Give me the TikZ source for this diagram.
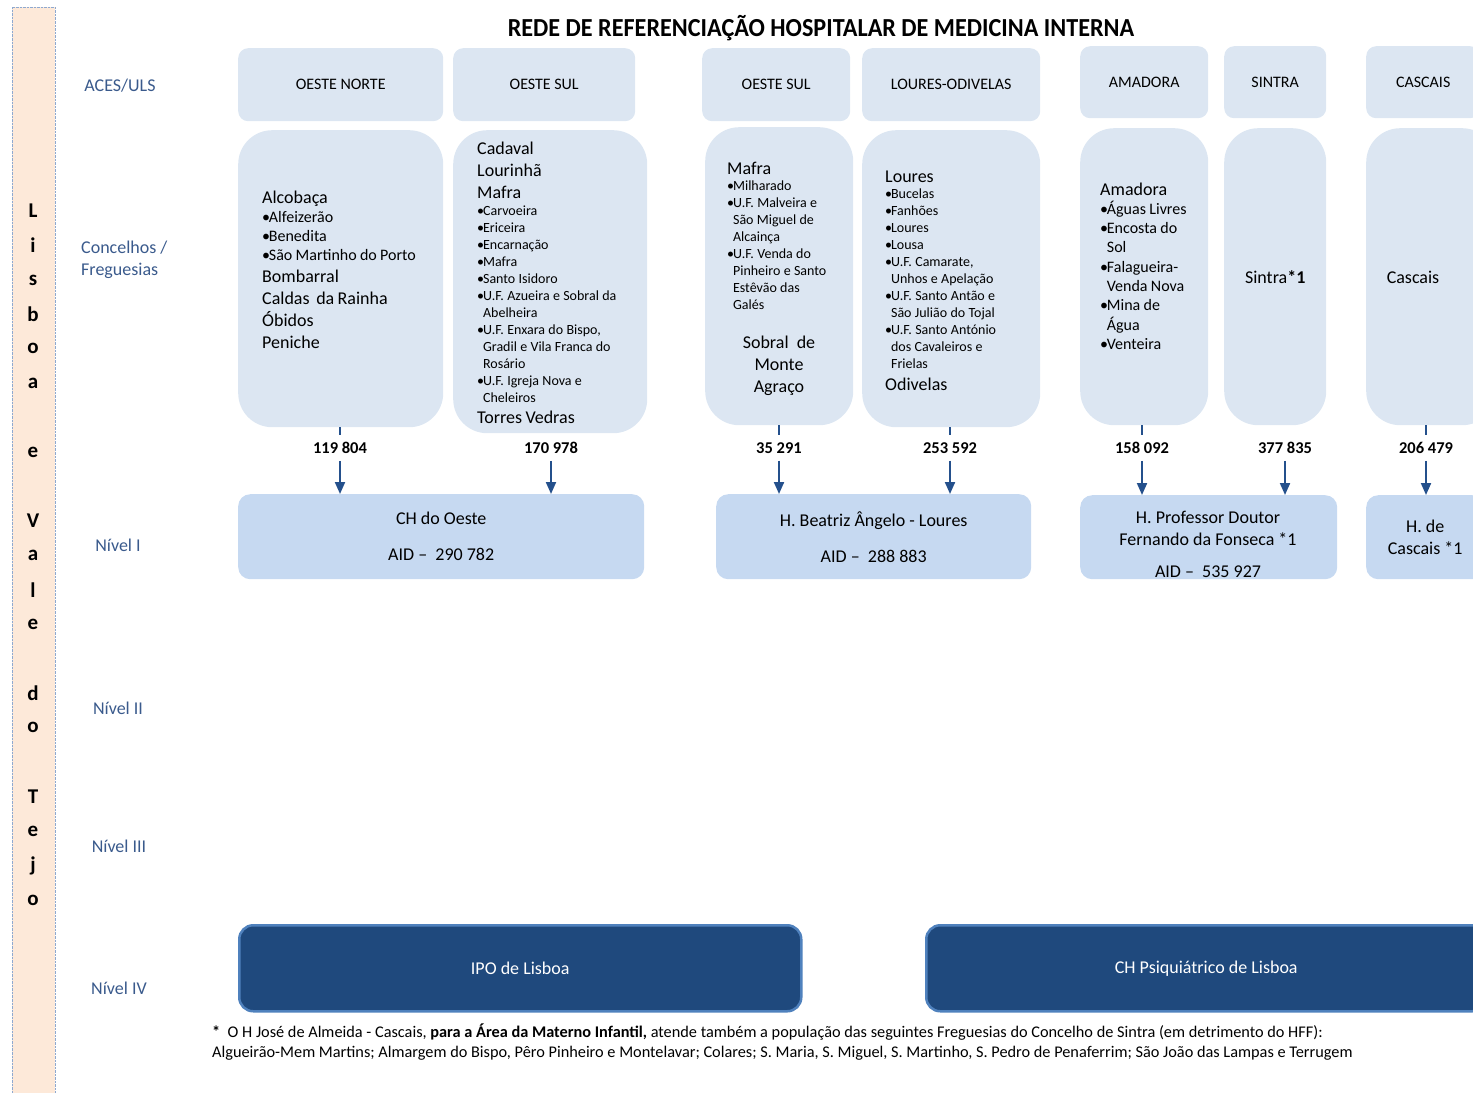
\documentclass[tikz,border=0pt]{standalone}
\usepackage{fontspec}
\usepackage{graphicx}
\setmainfont{Carlito}
\usetikzlibrary{arrows.meta}

\definecolor{boxblue}{HTML}{DCE6F2}
\definecolor{hospblue}{HTML}{C6D9F1}
\definecolor{navy}{HTML}{1F497D}
\definecolor{edgeblue}{HTML}{4F81BD}
\definecolor{labblue}{HTML}{3A5A8C}
\definecolor{arrblue}{HTML}{24508C}
\definecolor{peach}{HTML}{FDE9D9}
\definecolor{bardot}{HTML}{8EA9D0}

\newcommand{\fbig}{\fontsize{18bp}{22bp}\selectfont}
\newcommand{\fmid}{\fontsize{16bp}{19.3bp}\selectfont}
\newcommand{\fsml}{\fontsize{14bp}{17bp}\selectfont}
\newcommand{\bu}{\makebox[0.42em][l]{•}}
\newcommand{\ind}{\hspace*{0.42em}}
\lineskiplimit=-50pt

\tikzset{
  acesbox/.style={fill=boxblue, rounded corners=10bp, inner sep=0pt, anchor=north west,
    font=\fontsize{16bp}{19bp}\selectfont},
  conbox/.style={fill=boxblue, rounded corners=34bp, inner sep=0pt, anchor=north west, font=\fbig},
  contxt/.style={anchor=base west, text width=240bp, align=left, inner sep=0pt},
  hospbox/.style={fill=hospblue, rounded corners=12bp, inner sep=0pt, anchor=north west,
    align=center, font=\fbig},
  ivbox/.style={fill=navy, draw=edgeblue, line width=2.5bp, rounded corners=14bp, inner sep=0pt,
    anchor=north west, text=white, font=\fbig},
  rowlab/.style={text=labblue, font=\fbig, inner sep=0pt},
  barletter/.style={font=\fontsize{21bp}{25bp}\selectfont\bfseries, inner sep=0pt},
  popnum/.style={font=\fontsize{16.5bp}{19bp}\selectfont\bfseries, inner xsep=2bp, inner ysep=7bp},
  arr/.style={draw=arrblue, line width=2bp, -{Triangle[length=12bp,width=10bp]}},
  tick/.style={draw=arrblue, line width=2bp},
}

\begin{document}
\begin{tikzpicture}[x=1bp,y=-1bp]
  \useasboundingbox (0,0) rectangle (1473,1092);
  \clip (0,0) rectangle (1473,1092);

  % left bar
  \draw[bardot, densely dotted, fill=peach] (12,7) rectangle (55,1100);
  \foreach \i/\ch in {0/L,1/i,2/s,3/b,4/o,5/a,7/e,9/V,10/a,11/l,12/e,14/d,15/o,17/T,18/e,19/j,20/o}
    \node[barletter] (let\i) at (33,{211+34.45*\i}) {\ch};

  \node[font=\fontsize{26bp}{30bp}\selectfont\bfseries] (title) at (821,28)
    {\scalebox{0.93}[1]{REDE DE REFERENCIAÇÃO HOSPITALAR DE MEDICINA INTERNA}};

  % row labels
  \node[rowlab] (labAces) at (120,86) {ACES/ULS};
  \node[rowlab, anchor=west, align=left] (labCon) at (81,260) {Concelhos /\\Freguesias};
  \node[rowlab] (labN1) at (118,545) {Nível I};
  \node[rowlab] (labN2) at (118,708) {Nível II};
  \node[rowlab] (labN3) at (119,846) {Nível III};
  \node[rowlab] (labN4) at (119,988) {Nível IV};

  % ACES / ULS
  \node[acesbox, minimum width=205bp, minimum height=73bp] (acesON) at (238,48) {OESTE NORTE};
  \node[acesbox, minimum width=182bp, minimum height=73bp] (acesOS) at (453,48) {OESTE SUL};
  \node[acesbox, minimum width=148bp, minimum height=73bp] (acesOSb) at (702,48) {OESTE SUL};
  \node[acesbox, minimum width=178bp, minimum height=73bp] (acesLO) at (862,48) {LOURES-ODIVELAS};
  \node[acesbox, minimum width=128bp, minimum height=72bp] (acesAM) at (1080,46) {AMADORA};
  \node[acesbox, minimum width=102bp, minimum height=72bp] (acesSI) at (1224,46) {SINTRA};
  \node[acesbox, minimum width=114bp, minimum height=72bp] (acesCA) at (1366,46) {CASCAIS};

  % concelhos / freguesias
  \node[conbox, minimum width=205bp, minimum height=297bp] (conA) at (238,130) {};
  \node[conbox, minimum width=194bp, minimum height=303bp] (conB) at (453,130) {};
  \node[conbox, minimum width=148bp, minimum height=298bp] (conC) at (705,127) {};
  \node[conbox, minimum width=178bp, minimum height=297bp] (conD) at (862,130) {};
  \node[conbox, minimum width=128bp, minimum height=297bp] (conE) at (1080,128) {};
  \node[conbox, minimum width=102bp, minimum height=297bp] (conF) at (1224,128) {Sintra\textbf{*1}};
  \node[conbox, minimum width=130bp, minimum height=297bp] (conG) at (1366,128) {};
  \node[font=\fbig] (conGt) at (1413,277) {Cascais};

  \node[contxt] (tA) at (262,203) {\fbig Alcobaça\par
    \fmid\bu Alfeizerão\par
    \bu Benedita\par
    \bu São Martinho do Porto\par
    \fbig Bombarral\par
    Caldas\ \ da Rainha\par
    Óbidos\par
    Peniche\par};
  \node[contxt] (tB) at (477,154) {\fbig Cadaval\par
    Lourinhã\par
    Mafra\par
    \fsml\bu Carvoeira\par
    \bu Ericeira\par
    \bu Encarnação\par
    \bu Mafra\par
    \bu Santo Isidoro\par
    \bu U.F. Azueira e Sobral da\par
    \ind Abelheira\par
    \bu U.F. Enxara do Bispo,\par
    \ind Gradil e Vila Franca do\par
    \ind Rosário\par
    \bu U.F. Igreja Nova e\par
    \ind Cheleiros\par
    \fbig\vspace{-1bp}Torres Vedras\par};
  \node[contxt] (tC) at (727,174) {\fbig Mafra\par
    \fsml\vspace{-1bp}\bu Milharado\par
    \bu U.F. Malveira e\par
    \ind São Miguel de\par
    \ind Alcainça\par
    \bu U.F. Venda do\par
    \ind Pinheiro e Santo\par
    \ind Estêvão das\par
    \ind Galés\par};
  \node[anchor=base, text width=140bp, align=flush center, inner sep=0pt, font=\fbig] (tCb) at (779,348)
    {Sobral\ \ de\par Monte\par Agraço\par};
  \node[contxt] (tD) at (885,182) {\fbig Loures\par
    \fsml\vspace{-1bp}\bu Bucelas\par
    \bu Fanhões\par
    \bu Loures\par
    \bu Lousa\par
    \bu U.F. Camarate,\par
    \ind Unhos e Apelação\par
    \bu U.F. Santo Antão e\par
    \ind São Julião do Tojal\par
    \bu U.F. Santo António\par
    \ind dos Cavaleiros e\par
    \ind Frielas\par
    \fbig Odivelas\par};
  \node[contxt] (tE) at (1100,195) {\fbig Amadora\par
    \fmid\bu Águas Livres\par
    \bu Encosta do\par
    \ind Sol\par
    \bu Falagueira-\par
    \ind Venda Nova\par
    \bu Mina de\par
    \ind Água\par
    \bu Venteira\par};

  % population
  \node[popnum] (n1) at (340,448) {119 804};
  \node[popnum] (n2) at (551,448) {170 978};
  \node[popnum] (n3) at (779,448) {35 291};
  \node[popnum] (n4) at (950,448) {253 592};
  \node[popnum] (n5) at (1142,448) {158 092};
  \node[popnum] (n6) at (1285,448) {377 835};
  \node[popnum] (n7) at (1426,448) {206 479};

  % nivel I
  \node[hospbox, minimum width=406bp, minimum height=85bp] (hospO) at (238,494)
    {CH do Oeste\\[14bp]AID –\ \ 290 782};
  \node[hospbox, minimum width=315bp, minimum height=85bp] (hospB) at (716,494)
    {H. Beatriz Ângelo - Loures\\[14bp]AID –\ \ 288 883};
  \node[hospbox, minimum width=257bp, minimum height=84bp] (hospF) at (1080,495) {};
  \node[anchor=base, text width=250bp, align=flush center, inner sep=0pt, font=\fbig] (hospFt) at (1208,523)
    {H. Professor Doutor\par Fernando da Fonseca *1\par\vspace{10bp}AID –\ \ 535 927\par};
  \node[hospbox, minimum width=118bp, minimum height=84bp] (hospC) at (1366,495) {H. de\\Cascais *1};

  \foreach \n/\c in {n1/conA,n3/conC,n4/conD,n5/conE,n7/conG}
    \draw[tick] (\c.south -| \n) -- (\n.north);
  \foreach \n/\h in {n1/hospO,n2/hospO,n3/hospB,n4/hospB,n5/hospF,n6/hospF,n7/hospC}
    \draw[arr] (\n.south) -- (\n |- \h.north);

  % nivel IV
  \node[ivbox, minimum width=562bp, minimum height=86bp] (ipo) at (238,924) {IPO de Lisboa};
  \node[ivbox, minimum width=560bp, minimum height=86bp] (psiq) at (925,924) {CH Psiquiátrico de Lisboa};

  \node[anchor=west, align=left, inner sep=0pt, font=\fontsize{16.3bp}{20bp}\selectfont] (nota) at (212,1042)
    {\textbf{*}\ \ O H José de Almeida - Cascais, \textbf{para a Área da Materno Infantil,} atende também a população das seguintes Freguesias do Concelho de Sintra (em detrimento do HFF):\\
     Algueirão-Mem Martins; Almargem do Bispo, Pêro Pinheiro e Montelavar; Colares; S. Maria, S. Miguel, S. Martinho, S. Pedro de Penaferrim; São João das Lampas e Terrugem};
\end{tikzpicture}
\end{document}
